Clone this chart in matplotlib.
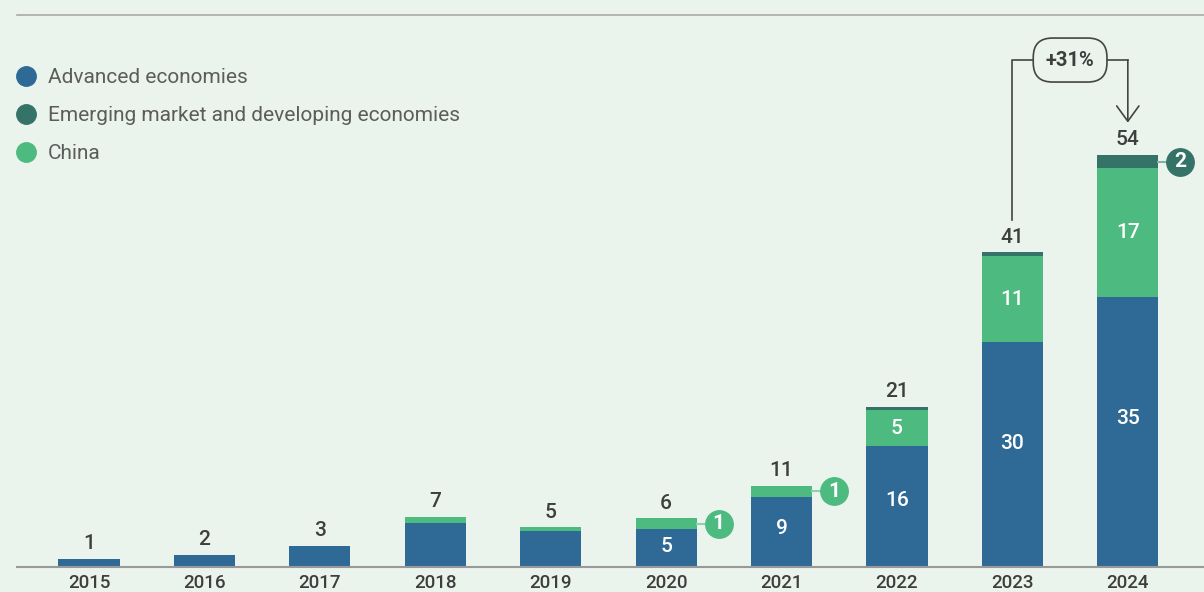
import matplotlib.pyplot as plt
from matplotlib.lines import Line2D

years = ['2015', '2016', '2017', '2018', '2019', '2020', '2021', '2022', '2023', '2024']
advanced = [1.05, 1.6, 2.8, 5.8, 4.7, 4.95, 9.2, 15.9, 29.5, 35.3]
china = [0, 0, 0, 0.8, 0.5, 1.45, 1.45, 4.6, 11.2, 16.9]
emde = [0, 0, 0, 0, 0, 0, 0, 0.5, 0.5, 1.8]
series_names = ['Advanced economies', 'Emerging market and developing economies', 'China']

BG = '#EAF4ED'
BLUE = '#2F6A97'
DARK_GREEN = '#357368'
GREEN = '#4DBB80'
TEXT = '#3E3E3E'

plt.rcParams['font.family'] = ['Roboto', 'DejaVu Sans']

fig = plt.figure(figsize=(12.04, 5.92), dpi=100, facecolor=BG)
ax = fig.add_axes([17 / 1204, 25 / 592, 1 - 17 / 1204, 552 / 592])
ax.set_facecolor(BG)

x = list(range(len(years)))
width = 0.53
china_base = advanced
emde_base = [a + c for a, c in zip(advanced, china)]
totals = [a + c + e for a, c, e in zip(advanced, china, emde)]

ax.bar(x, advanced, width, color=BLUE)
ax.bar(x, china, width, bottom=china_base, color=GREEN)
ax.bar(x, emde, width, bottom=emde_base, color=DARK_GREEN)

# totals above each stack
for i, t in enumerate(totals):
    ax.annotate(f'{round(t)}', (i, t), xytext=(0, 4), textcoords='offset points',
                ha='center', va='bottom', fontsize=15, fontweight='medium', color=TEXT)

# segment values shown from 2020 on
for i in range(5, len(years)):
    ax.text(i, advanced[i] * 0.55, f'{round(advanced[i])}', ha='center', va='center',
            fontsize=15, color='white', fontweight='medium')
    if china[i] >= 4:
        ax.text(i, china_base[i] + china[i] / 2, f'{round(china[i])}', ha='center', va='center',
                fontsize=15, color='white', fontweight='medium')

# small segments get a badge to the right of the bar
def badge(i, base, val, color, line_color):
    y = base + val / 2
    cx = i + width / 2 + 0.19
    ax.plot([i + width / 2, cx], [y, y], color=line_color, lw=1.5, zorder=3)
    ax.scatter([cx], [y], s=390, color=color, zorder=4)
    ax.text(cx, y, f'{round(val)}', ha='center', va='center', color='white',
            fontsize=15, fontweight='bold', zorder=5)

for i in (5, 6):
    badge(i, china_base[i], china[i], GREEN, '#8FD0AC')
badge(9, emde_base[9], emde[9], DARK_GREEN, '#7FAFA6')

# growth bracket between the last two years
growth = (totals[9] / totals[8] - 1) * 100
top_y = 66.4
ax.plot([8, 8, 8.18], [totals[8] + 4.2, top_y, top_y], color='#444444', lw=1.2)
ax.plot([8.82, 9], [top_y, top_y], color='#444444', lw=1.2)
ax.annotate('', xy=(9, totals[9] + 4.2), xytext=(9, top_y),
            arrowprops=dict(arrowstyle='->,head_length=0.55,head_width=0.4',
                            color='#444444', lw=1.2, mutation_scale=20,
                            shrinkA=0, shrinkB=0))
ax.text(8.5, top_y, f'+{round(growth)}%', ha='center', va='center', fontsize=14.5,
        fontweight='bold', color=TEXT, zorder=5,
        bbox=dict(boxstyle='round,pad=0.62,rounding_size=0.95', fc=BG, ec='#444444', lw=1.2))

ax.set_xlim(-0.624, 9.66)
ax.set_ylim(0, 72.3)
ax.set_xticks(x)
ax.set_xticklabels(years, fontsize=13.5, fontweight='medium', color=TEXT)
ax.tick_params(axis='x', length=0, pad=5)
ax.set_yticks([])
for side in ('left', 'right'):
    ax.spines[side].set_visible(False)
ax.spines['bottom'].set_color('#999999')
ax.spines['bottom'].set_linewidth(1.5)
ax.spines['top'].set_color('#AAAAAA')
ax.spines['top'].set_linewidth(1.2)

handles = [Line2D([], [], marker='o', ls='', ms=14, color=c) for c in (BLUE, DARK_GREEN, GREEN)]
leg = ax.legend(handles, series_names, loc='upper left', bbox_to_anchor=(-9 / 1204, 1 - 45 / 552),
                frameon=False, fontsize=15, handlelength=0.9, handletextpad=0.6,
                labelspacing=0.9, borderaxespad=0)
for t in leg.get_texts():
    t.set_color('#5C5C5C')

fig.savefig('out.png', dpi=100, facecolor=BG)
